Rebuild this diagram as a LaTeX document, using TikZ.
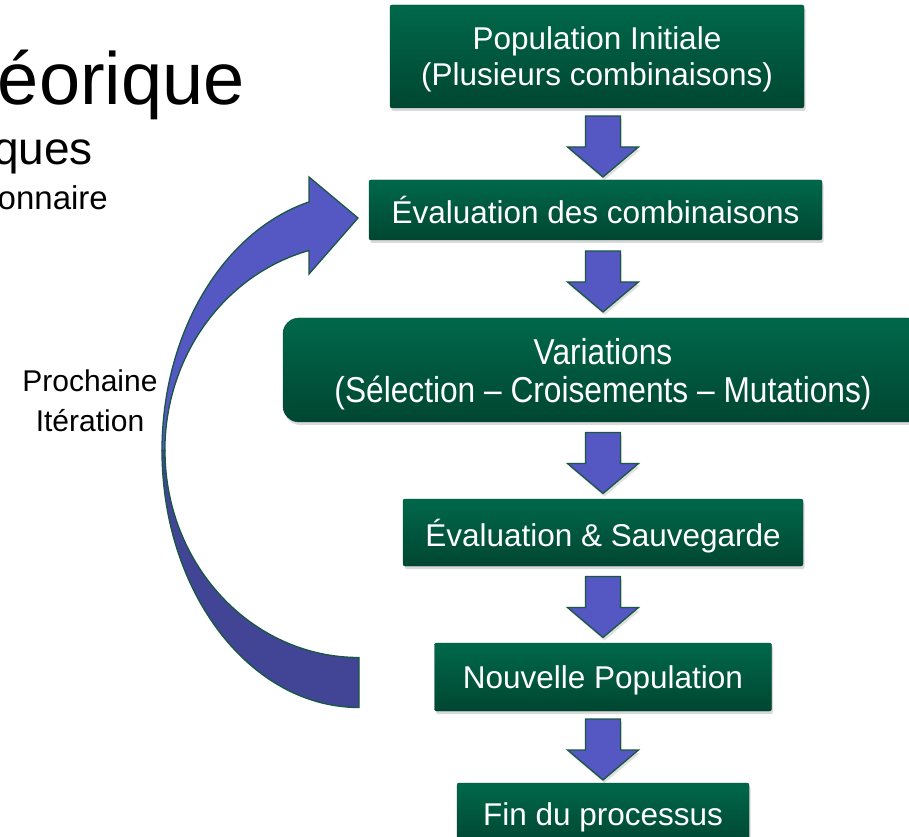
\documentclass[tikz,border=0pt]{standalone}
\usepackage{fontspec}
\setmainfont{Liberation Sans}
\newfontfamily\narrowsans[FakeStretch=0.88]{Liberation Sans}
\usepackage{tikz}
\usetikzlibrary{calc,shadows}
\definecolor{boxtop}{RGB}{0,104,74}
\definecolor{boxbottom}{RGB}{0,70,49}
\definecolor{arrowfill}{RGB}{85,87,194}
\definecolor{arrowback}{RGB}{66,68,150}
\definecolor{arrowline}{RGB}{24,88,66}
\tikzstyle{stage}=[rectangle,rounded corners=2pt,top color=boxtop,bottom color=boxbottom,draw=boxbottom,text=white,align=center,inner sep=0pt,text depth=0pt,font=\fontsize{31.5}{36}\selectfont,drop shadow={opacity=0.3,shadow xshift=1.5pt,shadow yshift=-3pt}]
\tikzstyle{down arrow}=[draw=arrowline,line width=1.3pt,fill=arrowfill,drop shadow={opacity=0.25,shadow xshift=1.5pt,shadow yshift=-3pt}]
\tikzstyle{loop front}=[draw=arrowline,line width=1.3pt,fill=arrowfill]
\tikzstyle{loop back}=[loop front,fill=arrowback]
\tikzstyle{slide text}=[anchor=base east,inner sep=0pt]
\begin{document}
\begin{tikzpicture}[x=1pt,y=1pt]
    \useasboundingbox (0,0) rectangle (909,836);
    \clip (0,0) rectangle (909,836);
    \node[slide text,font=\fontsize{74}{80}\selectfont] (title) at (245,731) {éorique};
    \node[slide text,font=\fontsize{46}{50}\selectfont] (subtitle) at (93,671) {ques};
    \node[slide text,font=\fontsize{33}{36}\selectfont] (subsub) at (108,626) {onnaire};
    \foreach \name/\xpos/\ypos/\w/\h/\txt in {init/597/779.5/414/103/{Population Initiale\\(Plusieurs combinaisons)},
            eval/595.5/626/453/60/{Évaluation des combinaisons}, save/603/303.5/400/67/{Évaluation \& Sauvegarde},
            newpop/603/159/337/68/{Nouvelle Population}, fin/603/22/292/62/{Fin du processus}}
        \node[stage,minimum width=\w,minimum height=\h] (\name) at (\xpos,\ypos) {\txt};
    \node[stage,rounded corners=16pt,minimum width=640,minimum height=104,font=\narrowsans\fontsize{36}{38}\selectfont] (var) at (603,466) {Variations\\(Sélection – Croisements – Mutations)};
    \foreach \a/\b in {init/eval,eval/var,var/save,save/newpop,newpop/fin}{
        \coordinate (mid) at ($(\a.south)!0.5!(\b.north)+(0,-2.5)$);
        \draw[down arrow] (mid -| save) ++(-17.5,30.5) -- ++(35,0) -- ++(0,-31) -- ++(18,0)
            -- ++(-35.5,-30) -- ++(-35.5,30) -- ++(18,0) -- cycle;
    }
    \coordinate (loopc) at (359,385.5);
    \draw[loop back] ($(loopc)+(-197,0)$) arc[start angle=180,end angle=270,x radius=197,y radius=257]
        -- ($(loopc)+(0,-207)$) arc[start angle=270,end angle=180,x radius=194,y radius=207] -- cycle;
    \draw[loop front] ($(loopc)+(-197,0)$) arc[start angle=180,end angle=104.7,x radius=197,y radius=257]
        -- (309,659) -- (358,618) -- (309,562) -- (309,585.5)
        arc[start angle=104.9,end angle=180,x radius=194,y radius=207] -- cycle;
    \node[font=\fontsize{30}{40}\selectfont,align=center,inner sep=0pt] (next) at (90,435.5) {Prochaine\\Itération};
\end{tikzpicture}
\end{document}
